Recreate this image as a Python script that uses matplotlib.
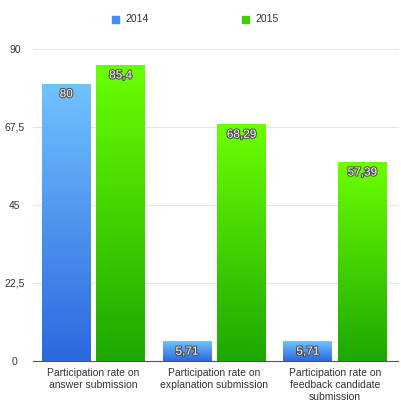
import numpy as np
import matplotlib.pyplot as plt
import matplotlib.patheffects as pe
from matplotlib.colors import LinearSegmentedColormap

plt.rcParams['font.family'] = ['Liberation Sans', 'DejaVu Sans']

categories = ['Participation rate on\nanswer submission',
              'Participation rate on\nexplanation submission',
              'Participation rate on\nfeedback candidate\nsubmission']
series_names = ['2014', '2015']
values_2014 = [80, 5.71, 5.71]
values_2015 = [85.4, 68.29, 57.39]
labels_2014 = ['80', '5,71', '5,71']
labels_2015 = ['85,4', '68,29', '57,39']
yticks = [0, 22.5, 45, 67.5, 90]
ytick_labels = ['0', '22,5', '45', '67,5', '90']

blue_cmap = LinearSegmentedColormap.from_list('b', ['#2c68de', '#72c2ff'])
green_cmap = LinearSegmentedColormap.from_list('g', ['#1ca800', '#6cff00'])

fig = plt.figure(figsize=(4.01, 4.03), dpi=100)
ax = fig.add_axes([33 / 401, 1 - 361 / 403, 365 / 401, 312 / 403])

x = np.arange(len(categories))
w = 0.405
off = 0.225
grad = np.linspace(0, 1, 256).reshape(-1, 1)


def draw(xs, vals, labels, cmap, color):
    bars = ax.bar(xs, vals, width=w, color=color, zorder=2)
    for b, lab in zip(bars, labels):
        x0, y0 = b.get_x(), b.get_y()
        im = ax.imshow(grad, cmap=cmap, origin='lower', aspect='auto',
                       extent=[x0, x0 + b.get_width(), y0, y0 + b.get_height()],
                       zorder=3)
        im.set_clip_path(b)
        ax.text(b.get_x() + b.get_width() / 2, b.get_height() - 1.3, lab,
                ha='center', va='top', color='white', fontsize=8.5, zorder=4,
                path_effects=[pe.withStroke(linewidth=1.5, foreground='#4a4a4a')])
    return bars


draw(x - off, values_2014, labels_2014, blue_cmap, '#4a90f0')
draw(x + off, values_2015, labels_2015, green_cmap, '#3cd000')

ax.set_xlim(-0.5, 2.52)
ax.set_ylim(0, 90)
ax.set_yticks(yticks)
ax.set_yticklabels(ytick_labels, fontsize=7.5, color='#333333', ha='center')
ax.set_xticks(x)
ax.set_xticklabels(categories, fontsize=7.5, color='#333333', linespacing=1.25)
ax.tick_params(length=0, pad=5)
ax.tick_params(axis='y', pad=13)
for s in ['top', 'right', 'left']:
    ax.spines[s].set_visible(False)
ax.spines['bottom'].set_color('#555555')
ax.spines['bottom'].set_zorder(5)
for t in yticks[1:]:
    ax.axhline(t, color='#e6e6e6', linewidth=0.8, zorder=0, clip_on=False)

# legend
fig.patches.append(plt.Rectangle((112 / 401, 1 - 23 / 403), 7 / 401, 7 / 403,
                                 transform=fig.transFigure, color='#3f8ff5'))
fig.text(125 / 401, 1 - 19 / 403, series_names[0], fontsize=7.5, va='center', color='#333333')
fig.patches.append(plt.Rectangle((242 / 401, 1 - 23 / 403), 7 / 401, 7 / 403,
                                 transform=fig.transFigure, color='#3fd000'))
fig.text(255 / 401, 1 - 19 / 403, series_names[1], fontsize=7.5, va='center', color='#333333')

fig.savefig('out.png', dpi=100)
